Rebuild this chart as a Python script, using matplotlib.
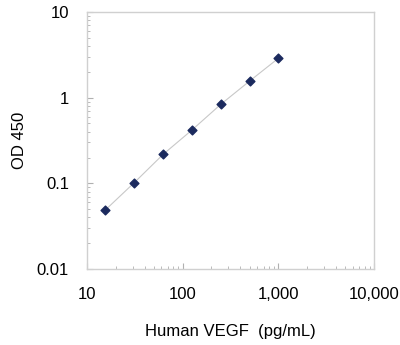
import matplotlib
matplotlib.use('Agg')
import matplotlib.pyplot as plt
from matplotlib.ticker import FuncFormatter, LogLocator

plt.rcParams['font.family'] = ['Liberation Sans', 'DejaVu Sans']

# standard curve values
conc = [15.6, 31.25, 62.5, 125, 250, 500, 1000]
od = [0.049, 0.102, 0.218, 0.419, 0.835, 1.56, 2.88]

x_ticks = [10, 100, 1000, 10000]
y_ticks = [0.01, 0.1, 1, 10]

fig = plt.figure(figsize=(4.0, 3.45), dpi=100)
ax = fig.add_axes([87 / 400, 1 - 269 / 345, 287 / 400, 257 / 345])

ax.plot(conc, od, color='#c8c8c8', lw=0.8, zorder=1)
ax.scatter(conc, od, marker='D', s=20, color='#1b2a5e', zorder=2)

ax.set_xscale('log')
ax.set_yscale('log')
ax.set_xlim(10, 10000)
ax.set_ylim(0.01, 10)

ax.set_xticks(x_ticks)
ax.set_yticks(y_ticks)
ax.xaxis.set_major_formatter(FuncFormatter(lambda v, p: f'{v:,.0f}'))
ax.yaxis.set_major_formatter(FuncFormatter(lambda v, p: f'{v:g}'))
ax.xaxis.set_minor_locator(LogLocator(base=10, subs=range(2, 10)))
ax.yaxis.set_minor_locator(LogLocator(base=10, subs=range(2, 10)))
ax.xaxis.set_minor_formatter(FuncFormatter(lambda v, p: ''))
ax.yaxis.set_minor_formatter(FuncFormatter(lambda v, p: ''))

ax.tick_params(which='major', direction='in', length=4, width=0.8, color='#b0b0b0',
               labelsize=12, pad=13)
ax.tick_params(which='minor', direction='in', length=2.5, width=0.6, color='#b0b0b0')
for s in ax.spines.values():
    s.set_color('#d0d0d0')
    s.set_linewidth(1.0)

ax.set_xlabel('Human VEGF  (pg/mL)', fontsize=12, labelpad=16)
ax.set_ylabel('OD 450', fontsize=12, labelpad=7)

fig.savefig('out.png', dpi=100)
